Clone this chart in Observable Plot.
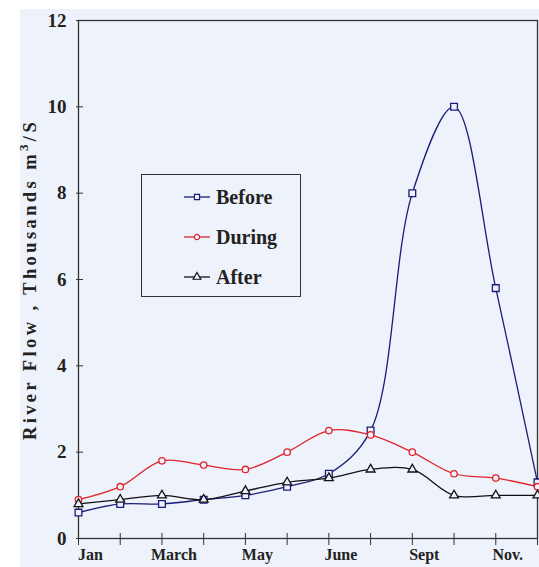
<!DOCTYPE html>
<html><head><meta charset="utf-8">
<script src="https://cdn.jsdelivr.net/npm/d3@7"></script>
<script src="https://cdn.jsdelivr.net/npm/@observablehq/plot@0.6"></script>
<style>
body{margin:0;background:#fff}
#wrap{position:relative;width:539px;height:567px;overflow:hidden}
#bg{position:absolute;left:20px;top:9px;right:0;bottom:0;background:#eef2fb}
#chart{position:absolute;left:0;top:0}
#legend{position:absolute;left:141px;top:174px;width:158px;height:121px;border:1.5px solid #333;background:#eef2fb;font-family:"Liberation Serif",serif;font-size:20px;font-weight:bold;color:#222}
.row{position:absolute;left:42px;display:flex;align-items:center;height:24px}
.row svg{margin-right:6px}
</style></head>
<body>
<div id="wrap"><div id="bg"></div><div id="chart"></div><div id="legend"></div></div>
<script>
const months = ["Jan","Feb","Mar","Apr","May","Jun","Jul","Aug","Sep","Oct","Nov","Dec"];
const tickLabels = ["Jan","","March","","May","","June","","Sept","","Nov.",""];
const seriesNames = ["Before","During","After"];
const before = [0.6,0.8,0.8,0.9,1.0,1.2,1.5,2.5,8.0,10.0,5.8,1.3];
const during = [0.9,1.2,1.8,1.7,1.6,2.0,2.5,2.4,2.0,1.5,1.4,1.2];
const after  = [0.8,0.9,1.0,0.9,1.1,1.3,1.4,1.6,1.6,1.0,1.0,1.0];
const yTicks = [0,2,4,6,8,10,12];
const colors = {Before:"#1c1c78", During:"#e0242a", After:"#111111"};
const symbols = {Before:"square", During:"circle", After:"triangle"};
const sizes = {Before:3.8, During:3.2, After:3.3};

const values = {Before:before, During:during, After:after};
const rows = seriesNames.flatMap(s => months.map((m,i)=>({i, month:m, value:values[s][i], series:s})));

const font = '"Liberation Serif", "Times New Roman", serif';
const plot = Plot.plot({
  width:539, height:567,
  marginLeft:78, marginRight:2, marginTop:20, marginBottom:29,
  style:{background:"transparent", fontFamily:font, fontWeight:"bold", color:"#222"},
  x:{domain:[0,11], label:null},
  y:{domain:[0,12], label:null},
  marks:[
    Plot.frame({stroke:"#333", strokeWidth:1.3}),
    Plot.axisY({ticks:yTicks, tickSize:7, dx:5, tickFormat:()=>"", stroke:"#333", label:null}),
    Plot.axisY({ticks:yTicks, tickSize:0, tickPadding:12, fontSize:19, label:"River Flow , Thousands m3/S", labelAnchor:"center", labelOffset:56, labelArrow:"none"}),
    Plot.axisX({ticks:d3.range(12), tickSize:12, dy:-5, tickFormat:()=>"", stroke:"#333", label:null}),
    Plot.axisX({ticks:d3.range(12), tickSize:0, tickPadding:10, dx:12, fontSize:16, tickFormat:d=>tickLabels[d], label:null}),
    ...seriesNames.map(s => Plot.line(rows.filter(d=>d.series===s), {x:"i", y:"value", curve:"catmull-rom", stroke:colors[s], strokeWidth:1.3})),
    ...seriesNames.map(s => Plot.dot(rows.filter(d=>d.series===s), {x:"i", y:"value", symbol:symbols[s], r:sizes[s], stroke:colors[s], strokeWidth:1.3, fill:"#eef2fb"}))
  ]
});
document.getElementById("chart").appendChild(plot);

// y label with superscript and letter spacing
const lab = d3.select(plot).selectAll('g[aria-label="y-axis label"] text').filter(function(){return this.textContent.startsWith("River");});
lab.text(null).attr("font-size",18.5).attr("letter-spacing","3.4px");
lab.append("tspan").text("River Flow , Thousands m");
lab.append("tspan").attr("dy",-8).attr("font-size",13).text("3");
lab.append("tspan").attr("dy",8).text("/S");

// legend
const lg = document.getElementById("legend");
seriesNames.forEach((s,k)=>{
  const row = document.createElement("div");
  row.className="row"; row.style.top = (10 + k*40) + "px";
  const sym = d3.symbol(s==="Before"?d3.symbolSquare:s==="During"?d3.symbolCircle:d3.symbolTriangle, s==="During"?22:26)();
  row.innerHTML = `<svg width="26" height="14"><line x1="0" x2="26" y1="7" y2="7" stroke="${colors[s]}" stroke-width="1.3"/><path d="${sym}" transform="translate(13,7)" fill="#eef2fb" stroke="${colors[s]}" stroke-width="1.2"/></svg><span>${s}</span>`;
  lg.appendChild(row);
});
</script>
</body></html>
